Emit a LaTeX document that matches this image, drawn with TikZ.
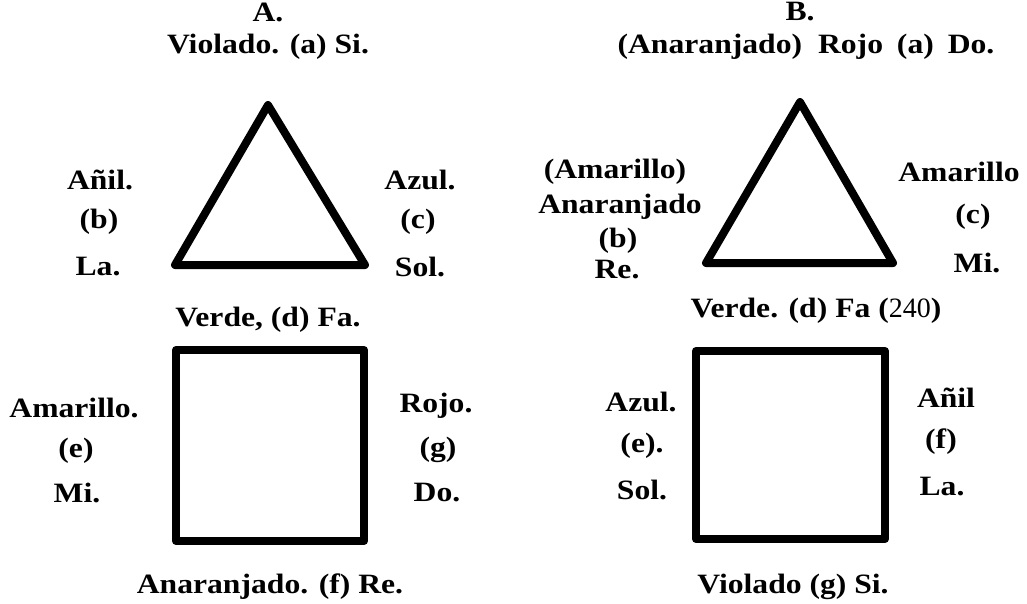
\documentclass[tikz,border=0pt]{standalone}
\usepackage{fontspec}
\setmainfont{Liberation Serif}[FakeStretch=1.13]
\newfontfamily\numfont{Liberation Serif}
\begin{document}
\begin{tikzpicture}[x=1pt,y=-1pt,
  lbl/.style={font=\fontsize{28}{32}\selectfont\bfseries, inner sep=0pt, anchor=center},
  shapeline/.style={line width=8pt, line join=round}]
\useasboundingbox (0,0) rectangle (1027,603);
% ---- A ----
\node[lbl] (Ahead) at (268,12) {A.};
\node[lbl] (Aa) at (268,47) {Violado. (a) Si.};
\draw[shapeline] (268,105) -- (175,265) -- (365,265) -- cycle;
\node[lbl] (Ab1) at (100,180) {Añil.};
\node[lbl] (Ab2) at (99,222) {(b)};
\node[lbl] (Ab3) at (98,267) {La.};
\node[lbl] (Ac1) at (420,180) {Azul.};
\node[lbl] (Ac2) at (418,222) {(c)};
\node[lbl] (Ac3) at (420,267) {Sol.};
\node[lbl] (Ad) at (268,320) {Verde, (d) Fa.};
\draw[shapeline] (176,350) rectangle (364,541);
\node[lbl] (Ae1) at (74,408) {Amarillo.};
\node[lbl] (Ae2) at (76,451) {(e)};
\node[lbl] (Ae3) at (77,493) {Mi.};
\node[lbl] (Ag1) at (436,406) {Rojo.};
\node[lbl] (Ag2) at (438,450) {(g)};
\node[lbl] (Ag3) at (437,493) {Do.};
\node[lbl] (Af) at (270,587) {Anaranjado. (f) Re.};
% ---- B ----
\node[lbl] (Bhead) at (800,12) {B.};
\node[lbl] (Ba) at (806,47) {(Anaranjado)\hspace{8pt} Rojo\hspace{6pt} (a)\hspace{6pt} Do.};
\draw[shapeline] (800,102) -- (706,263) -- (893,263) -- cycle;
\node[lbl] (Bb1) at (615,172) {(Amarillo)};
\node[lbl] (Bb2) at (620,207) {Anaranjado};
\node[lbl] (Bb3) at (618,241) {(b)};
\node[lbl] (Bb4) at (617,270) {Re.};
\node[lbl] (Bc1) at (959,172) {Amarillo};
\node[lbl] (Bc2) at (973,217) {(c)};
\node[lbl] (Bc3) at (977,263) {Mi.};
\node[lbl] (Bd) at (816,311) {Verde. (d) Fa ({\numfont\mdseries 240})};
\draw[shapeline] (696,351) rectangle (885,539);
\node[lbl] (Be1) at (641,402) {Azul.};
\node[lbl] (Be2) at (642,446) {(e).};
\node[lbl] (Be3) at (642,490) {Sol.};
\node[lbl] (Bf1) at (946,398) {Añil};
\node[lbl] (Bf2) at (941,442) {(f)};
\node[lbl] (Bf3) at (942,487) {La.};
\node[lbl] (Bg) at (793,587) {Violado (g) Si.};
\end{tikzpicture}
\end{document}
